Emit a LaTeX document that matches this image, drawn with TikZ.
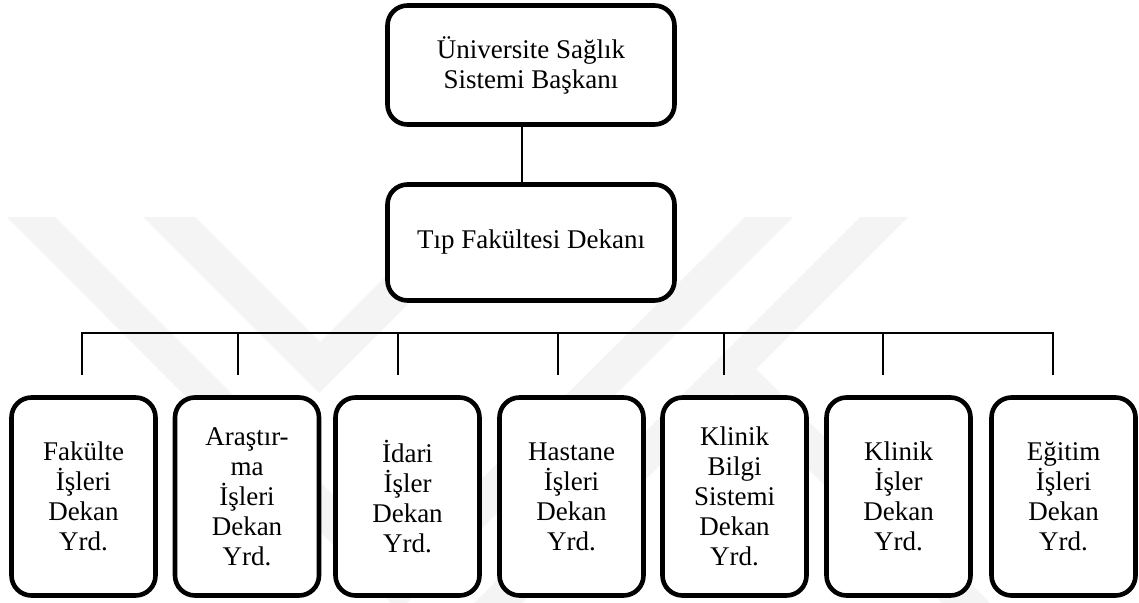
\documentclass[tikz,border=0pt]{standalone}
\usepackage{fontspec}
\setmainfont{Liberation Serif}
\begin{document}
\begin{tikzpicture}[x=0.5pt,y=-0.5pt,
  box/.style={draw=black, fill=white, line width=2.3pt, rounded corners=10pt,
    inner sep=0pt, align=center, font=\fontsize{13.5}{15}\selectfont},
  headbox/.style={box, minimum width=143.5pt},
  subbox/.style={box, minimum width=72pt, minimum height=99pt},
  conn/.style={draw=black, line width=0.9pt},
  emblem/.style={fill=black!4.5, draw=none}]
\useasboundingbox (0,0) rectangle (1139,603);

% faint background emblem
\begin{scope}
  \clip (0,0) rectangle (1139,603);
  \fill[emblem] (7,217) -- (55,217) -- (399,561) -- (745,217) -- (793,217) -- (399,611) -- cycle;
  \fill[emblem] (143,217) -- (195,217) -- (320,342) -- (445,217) -- (495,217) -- (319,393) -- cycle;
  \fill[emblem] (860,217) -- (908,217) -- (756,369) -- (990,603) -- (942,603) -- (732,393) -- (522,603) -- (474,603) -- cycle;
\end{scope}

% head of the organisation
\node[headbox, minimum height=59.5pt] (top) at (531,65)
  {Üniversite Sağlık\\Sistemi Başkanı};
\node[headbox, minimum height=58pt] (dean) at (531,242.5)
  {Tıp Fakültesi Dekanı};
\draw[conn] ([xshift=-4.5pt]top.south) -- ([xshift=-4.5pt]dean.north);

% vice deans
\node[subbox] (v1) at (83.5,496.5) {Fakülte\\İşleri\\Dekan\\Yrd.};
\node[subbox] (v2) at (247,496.5) {Araştır-\\ma\\İşleri\\Dekan\\Yrd.};
\node[subbox] (v3) at (407.5,496.5) {İdari\\İşler\\Dekan\\Yrd.};
\node[subbox] (v4) at (571.5,496.5) {Hastane\\İşleri\\Dekan\\Yrd.};
\node[subbox] (v5) at (734.5,496.5) {Klinik\\Bilgi\\Sistemi\\Dekan\\Yrd.};
\node[subbox] (v6) at (898.5,496.5) {Klinik\\İşler\\Dekan\\Yrd.};
\node[subbox] (v7) at (1063.5,496.5) {Eğitim\\İşleri\\Dekan\\Yrd.};

% branch bar with its drops
\coordinate (bar) at (0,333);
\coordinate (d1) at (82,375);
\coordinate (d2) at (238,375);
\coordinate (d3) at (398,375);
\coordinate (d4) at (558,375);
\coordinate (d5) at (724,375);
\coordinate (d6) at (883,375);
\coordinate (d7) at (1053,375);
\draw[conn] (d1) -- (d1 |- bar) -- (d7 |- bar) -- (d7);
\foreach \k in {2,...,6} {
  \draw[conn] (d\k |- bar) -- (d\k);
}
\end{tikzpicture}
\end{document}
